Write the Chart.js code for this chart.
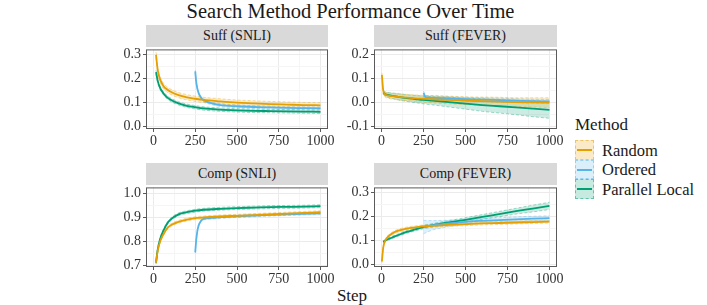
<!DOCTYPE html>
<html>
<head>
<meta charset="utf-8">
<script src="https://cdn.jsdelivr.net/npm/chart.js@4"></script>
<style>
  body { margin: 0; width: 707px; height: 305px; background: #fff; position: relative; overflow: hidden;
         font-family: "Liberation Serif", "Times New Roman", serif; color: #1a1a1a; }
  .abs { position: absolute; white-space: nowrap; }
  .strip { position: absolute; background: #d9d9d9; text-align: center; font-size: 14px; height: 22px; line-height: 22px; }
  canvas { position: absolute; }
  .key { position: absolute; width: 17px; height: 17.5px; border: 1px dashed; }
  .key i { position: absolute; left: 1px; right: 1px; top: 8px; height: 2px; }
  .lab { position: absolute; font-size: 16.5px; line-height: 19px; }
</style>
</head>
<body>
<div class="abs" style="left:0;width:701px;top:0;text-align:center;font-size:20.5px;line-height:22px">Search Method Performance Over Time</div>
<div class="abs" style="left:0;width:704px;top:286px;text-align:center;font-size:17px;line-height:20px">Step</div>
<div id="legend"></div>

<script>
// steps (x values)
const stepsSNLI  = [15, 25, 40, 60, 80, 100, 150, 200, 250, 300, 400, 500, 600, 700, 800, 900, 1000];
const stepsFEVER = [2, 10, 20, 30, 50, 75, 100, 150, 200, 250, 300, 400, 500, 600, 700, 800, 900, 1000];
const stepsFEVERpl = [10, 20, 30, 50, 75, 100, 150, 200, 250, 300, 400, 500, 600, 700, 800, 900, 1000];
const stepsOrdSNLI = [250, 255, 262, 270, 285, 300, 350, 400, 500, 600, 700, 800, 900, 1000];
const stepsOrdFEVER = [250, 260, 275, 300, 400, 500, 600, 700, 800, 900, 1000];
const stepsOrdFEVERc = [250, 300, 400, 500, 600, 700, 800, 900, 1000];

// Suff (SNLI)
const suffSnliRandom   = [0.297, 0.235, 0.195, 0.168, 0.155, 0.146, 0.131, 0.122, 0.116, 0.111, 0.105, 0.100, 0.097, 0.094, 0.092, 0.090, 0.089];
const suffSnliRandomB  = [0.012, 0.012, 0.012, 0.012, 0.011, 0.011, 0.011, 0.011, 0.011, 0.011, 0.011, 0.011, 0.011, 0.011, 0.011, 0.011, 0.011];
const suffSnliPL       = [0.226, 0.190, 0.160, 0.138, 0.123, 0.113, 0.097, 0.087, 0.081, 0.076, 0.071, 0.068, 0.066, 0.065, 0.064, 0.063, 0.062];
const suffSnliPLB      = [0.008, 0.008, 0.008, 0.007, 0.007, 0.007, 0.007, 0.007, 0.007, 0.007, 0.007, 0.007, 0.007, 0.007, 0.007, 0.007, 0.007];
const suffSnliOrdered  = [0.229, 0.190, 0.160, 0.140, 0.120, 0.110, 0.097, 0.090, 0.085, 0.082, 0.080, 0.078, 0.077, 0.076];
const suffSnliOrderedB = [0.006, 0.006, 0.006, 0.006, 0.006, 0.006, 0.006, 0.006, 0.006, 0.006, 0.006, 0.006, 0.006, 0.006];

// Suff (FEVER)
const suffFevRandom    = [0.115, 0.050, 0.035, 0.031, 0.028, 0.026, 0.024, 0.021, 0.018, 0.016, 0.014, 0.011, 0.008, 0.006, 0.004, 0.002, 0.001, 0.000];
const suffFevRandomB   = [0.008, 0.010, 0.011, 0.011, 0.012, 0.012, 0.013, 0.013, 0.014, 0.014, 0.015, 0.016, 0.016, 0.017, 0.018, 0.018, 0.019, 0.020];
const suffFevPL        = [0.042, 0.036, 0.033, 0.030, 0.027, 0.024, 0.019, 0.015, 0.011, 0.008, 0.002, -0.004, -0.010, -0.015, -0.020, -0.025, -0.030];
const suffFevPLB       = [0.008, 0.009, 0.010, 0.011, 0.012, 0.013, 0.014, 0.015, 0.016, 0.017, 0.020, 0.023, 0.026, 0.028, 0.030, 0.033, 0.035];
const suffFevOrdered   = [0.040, 0.025, 0.021, 0.020, 0.017, 0.014, 0.012, 0.010, 0.008, 0.006, 0.005];
const suffFevOrderedB  = [0.008, 0.008, 0.008, 0.008, 0.008, 0.008, 0.008, 0.008, 0.008, 0.008, 0.008];

// Comp (SNLI)
const compSnliRandom   = [0.711, 0.760, 0.800, 0.830, 0.852, 0.865, 0.881, 0.890, 0.896, 0.899, 0.903, 0.906, 0.909, 0.912, 0.915, 0.918, 0.921];
const compSnliRandomB  = [0.006, 0.006, 0.006, 0.006, 0.006, 0.006, 0.006, 0.006, 0.006, 0.006, 0.006, 0.006, 0.006, 0.006, 0.006, 0.006, 0.006];
const compSnliPL       = [0.711, 0.765, 0.810, 0.845, 0.872, 0.889, 0.912, 0.921, 0.927, 0.931, 0.935, 0.938, 0.940, 0.942, 0.943, 0.944, 0.946];
const compSnliPLB      = [0.006, 0.006, 0.006, 0.006, 0.006, 0.006, 0.006, 0.006, 0.006, 0.006, 0.006, 0.006, 0.006, 0.006, 0.006, 0.006, 0.006];
const compSnliOrdered  = [0.754, 0.800, 0.840, 0.865, 0.885, 0.893, 0.897, 0.900, 0.904, 0.907, 0.910, 0.912, 0.914, 0.916];
const compSnliOrderedB = [0.005, 0.005, 0.005, 0.005, 0.005, 0.005, 0.005, 0.005, 0.005, 0.005, 0.005, 0.005, 0.005, 0.005];

// Comp (FEVER)
const compFevRandom    = [0.012, 0.070, 0.095, 0.108, 0.122, 0.133, 0.140, 0.149, 0.154, 0.158, 0.160, 0.164, 0.167, 0.170, 0.172, 0.174, 0.176, 0.178];
const compFevRandomB   = [0.005, 0.006, 0.006, 0.006, 0.006, 0.006, 0.006, 0.006, 0.006, 0.006, 0.006, 0.006, 0.006, 0.006, 0.006, 0.006, 0.006, 0.006];
const compFevPL        = [0.093, 0.098, 0.102, 0.108, 0.115, 0.122, 0.135, 0.145, 0.155, 0.162, 0.174, 0.185, 0.197, 0.209, 0.221, 0.232, 0.243];
const compFevPLB       = [0.004, 0.004, 0.004, 0.005, 0.005, 0.005, 0.006, 0.006, 0.007, 0.007, 0.008, 0.009, 0.010, 0.011, 0.012, 0.014, 0.015];
const compFevOrdered   = [0.155, 0.162, 0.170, 0.177, 0.181, 0.184, 0.187, 0.190, 0.192];
const compFevOrderedB  = [0.028, 0.020, 0.014, 0.011, 0.010, 0.010, 0.010, 0.010, 0.010];

const methods = ['Random', 'Ordered', 'Parallel Local'];
const COLORS = { 'Random': '#E69F00', 'Ordered': '#56B4E9', 'Parallel Local': '#009E73' };
const FONT = "'Liberation Serif', serif";

function rgba(hex, a){
  const n = parseInt(hex.slice(1), 16);
  return `rgba(${n >> 16},${(n >> 8) & 255},${n & 255},${a})`;
}

function series(method, xs, ys, band){
  const c = COLORS[method];
  const pts = (f) => xs.map((x, i) => ({ x, y: f(i) }));
  return [
    { data: pts(i => ys[i] + band[i]), borderColor: rgba(c, 0.45), borderDash: [3, 2], borderWidth: 0.8,
      pointRadius: 0, fill: false, order: 2, cubicInterpolationMode: 'monotone' },
    { data: pts(i => ys[i] - band[i]), borderColor: rgba(c, 0.45), borderDash: [3, 2], borderWidth: 0.8,
      pointRadius: 0, fill: '-1', backgroundColor: rgba(c, 0.2), order: 2, cubicInterpolationMode: 'monotone' },
    { label: method, data: pts(i => ys[i]), borderColor: c, borderWidth: 1.8, pointRadius: 0,
      fill: false, order: 1, cubicInterpolationMode: 'monotone' }
  ];
}

const panels = [
  { title: 'Suff (SNLI)', x: 146, y: 47, w: 182, h: 82, ymin: -0.009, ymax: 0.32,
    sets: [...series('Random', stepsSNLI, suffSnliRandom, suffSnliRandomB),
           ...series('Ordered', stepsOrdSNLI, suffSnliOrdered, suffSnliOrderedB),
           ...series('Parallel Local', stepsSNLI, suffSnliPL, suffSnliPLB)] },
  { title: 'Suff (FEVER)', x: 374, y: 47, w: 183, h: 82, ymin: -0.109, ymax: 0.22,
    sets: [...series('Random', stepsFEVER, suffFevRandom, suffFevRandomB),
           ...series('Ordered', stepsOrdFEVER, suffFevOrdered, suffFevOrderedB),
           ...series('Parallel Local', stepsFEVERpl, suffFevPL, suffFevPLB)] },
  { title: 'Comp (SNLI)', x: 146, y: 185, w: 182, h: 82, ymin: 0.693, ymax: 1.024,
    sets: [...series('Random', stepsSNLI, compSnliRandom, compSnliRandomB),
           ...series('Ordered', stepsOrdSNLI, compSnliOrdered, compSnliOrderedB),
           ...series('Parallel Local', stepsSNLI, compSnliPL, compSnliPLB)] },
  { title: 'Comp (FEVER)', x: 374, y: 185, w: 183, h: 82, ymin: -0.011, ymax: 0.32,
    sets: [...series('Random', stepsFEVER, compFevRandom, compFevRandomB),
           ...series('Ordered', stepsOrdFEVERc, compFevOrdered, compFevOrderedB),
           ...series('Parallel Local', stepsFEVERpl, compFevPL, compFevPLB)] }
];

// panel frame
const frame = {
  id: 'frame',
  afterDatasetsDraw(chart){
    const a = chart.chartArea, c = chart.ctx;
    c.save();
    c.strokeStyle = '#5a5a5a';
    c.lineWidth = 1;
    c.strokeRect(a.left + 0.5, a.top + 0.5, a.right - a.left - 1, a.bottom - a.top - 1);
    c.restore();
  }
};

const isMajorY = v => Math.abs(v * 10 - Math.round(v * 10)) < 1e-6;
const isMajorX = v => Math.abs(v % 250) < 1e-6;

function build(){
  panels.forEach(p => {
    const strip = document.createElement('div');
    strip.className = 'strip';
    Object.assign(strip.style, { left: p.x + 'px', top: (p.y - 22) + 'px', width: p.w + 'px' });
    strip.textContent = p.title;
    document.body.appendChild(strip);

    const cv = document.createElement('canvas');
    cv.width = p.w + 52; cv.height = p.h + 28;
    cv.style.left = (p.x - 40) + 'px';
    cv.style.top = (p.y - 8) + 'px';
    document.body.appendChild(cv);

    new Chart(cv.getContext('2d'), {
      type: 'line',
      data: { datasets: p.sets },
      plugins: [frame],
      options: {
        responsive: false,
        animation: false,
        layout: { padding: { top: 8, right: 12, left: 0, bottom: 0 } },
        plugins: { legend: { display: false }, tooltip: { enabled: false } },
        scales: {
          x: {
            type: 'linear', min: -45, max: 1045,
            border: { display: false },
            grid: { color: ctx => isMajorX(ctx.tick.value) ? '#ebebeb' : '#f5f5f5', tickLength: 3,
                    tickColor: ctx => isMajorX(ctx.tick.value) ? '#5a5a5a' : 'rgba(0,0,0,0)' },
            ticks: { stepSize: 125, includeBounds: false, autoSkip: false, maxRotation: 0, padding: 1,
                     color: '#333', font: { family: FONT, size: 14 },
                     callback: v => isMajorX(v) ? String(v) : '' },
            afterFit: s => { s.height = 20; }
          },
          y: {
            type: 'linear', min: p.ymin, max: p.ymax,
            border: { display: false },
            grid: { color: ctx => isMajorY(ctx.tick.value) ? '#ebebeb' : '#f5f5f5', tickLength: 3,
                    tickColor: ctx => isMajorY(ctx.tick.value) ? '#5a5a5a' : 'rgba(0,0,0,0)' },
            ticks: { stepSize: 0.05, includeBounds: false, autoSkip: false, padding: 2,
                     color: '#333', font: { family: FONT, size: 14 },
                     callback: v => isMajorY(v) ? v.toFixed(1) : '' },
            afterFit: s => { s.width = 40; }
          }
        }
      }
    });
  });
}

// legend
const legend = document.getElementById('legend');
legend.innerHTML = '<div class="abs" style="left:575px;top:114px;font-size:17px;line-height:22px">Method</div>' +
  methods.map((m, i) => {
    const top = 140 + i * 19.5;
    const c = COLORS[m];
    return `<div class="key" style="left:575px;top:${top}px;background:${rgba(c, 0.22)};border-color:${rgba(c, 0.5)}"><i style="background:${c}"></i></div>` +
           `<div class="lab" style="left:602px;top:${top + 0.5}px">${m}</div>`;
  }).join('');

// make sure the serif face is ready before the canvases draw
document.fonts.load("14px 'Liberation Serif'").then(build, build);
</script>
</body>
</html>
